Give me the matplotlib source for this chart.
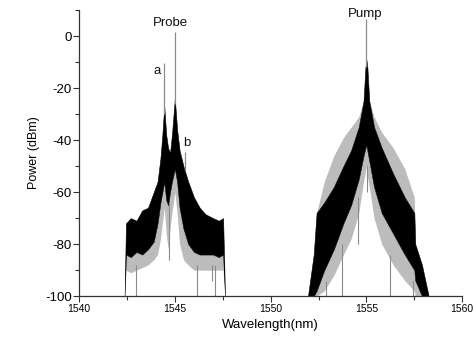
import matplotlib
matplotlib.use("Agg")
import matplotlib.pyplot as plt
from matplotlib.ticker import MultipleLocator

plt.rcParams['font.family'] = ['Liberation Sans', 'DejaVu Sans']
plt.rcParams['axes.unicode_minus'] = False

# ---- Probe band (black envelope + grey fringe below) ----
probe_wl = [1542.38, 1542.45, 1542.7, 1543.0, 1543.3, 1543.6, 1543.9, 1544.1, 1544.25, 1544.35,
            1544.45, 1544.55, 1544.65, 1544.75, 1544.85, 1545.0, 1545.12, 1545.25, 1545.45,
            1545.7, 1546.0, 1546.3, 1546.6, 1547.0, 1547.3, 1547.52, 1547.62]
probe_top = [-100, -72, -70, -71, -67, -66, -60, -56, -47, -38,
             -27, -38, -43, -45, -38, -24, -36, -44, -50,
             -56, -62, -66, -68.5, -70, -71, -70, -100]
probe_bot = [-100, -84, -85, -83, -84, -82, -79, -72, -64, -60,
             -56, -63, -65, -60, -56, -51, -56, -66, -74,
             -80, -83, -84, -84, -84, -85, -84, -100]
probe_fringe = [-100, -90, -91, -90, -89, -88, -86, -84, -78, -72,
                -66, -76, -82, -74, -68, -60, -68, -80, -86,
                -88, -90, -90, -90, -90, -90, -90, -100]

# ---- Pump band (black envelope, grey sidebands above, grey fringe below) ----
pump_wl = [1551.95, 1552.25, 1552.40, 1552.8, 1553.3, 1553.8, 1554.2, 1554.6, 1554.85, 1554.95,
           1555.0, 1555.05, 1555.15, 1555.4, 1555.8, 1556.4, 1557.0, 1557.5, 1557.55, 1557.9, 1558.25]
pump_top = [-100, -84, -68, -64, -58, -50, -44, -35, -25, -12,
            -9, -12, -25, -35, -43, -53, -62, -68, -80, -88, -100]
pump_bot = [-100, -100, -98, -90, -82, -72, -65, -55, -46, -43,
            -42, -44, -48, -58, -68, -76, -84, -90, -94, -100, -100]
pump_side = [-100, -84, -68, -56, -46, -39, -35, -31, -25, -12,
             -9, -12, -25, -31, -37, -43, -51, -62, -80, -88, -100]
pump_fringe = [-100, -100, -100, -98, -92, -84, -78, -68, -56, -52,
               -50, -54, -58, -70, -80, -88, -94, -98, -100, -100, -100]

# ---- Spectral lines (peaks) ----
peak_wl = [1544.45, 1545.0, 1545.55, 1555.0]
peak_top = [-10.5, 1.5, -44.5, 6.5]
peak_base = [-30, -26, -52, -12]

# ---- Grey dips below the envelopes ----
dip_wl = [1542.98, 1544.68, 1546.15, 1546.93, 1547.1,
          1552.9, 1553.75, 1554.55, 1555.05, 1556.24, 1557.45]
dip_low = [-100, -86, -100, -94, -100,
           -100, -100, -80, -60, -100, -100]
dip_top = [-88, -64, -88, -88, -88,
           -94, -80, -62, -50, -84, -94]

labels = ["Probe", "a", "b", "Pump"]
label_x = [1544.75, 1544.1, 1545.65, 1554.95]
label_y = [5.0, -13.5, -41.0, 8.5]

xticks = [1540, 1545, 1550, 1555, 1560]
yticks = [0, -20, -40, -60, -80, -100]

fig = plt.figure(figsize=(4.76, 3.48), dpi=100)
ax = fig.add_axes([0.166, 0.149, 0.805, 0.822])

grey = '#8a8a8a'
light = '#bcbcbc'
ax.fill_between(pump_wl, pump_top, pump_side, color=light, lw=0)
ax.fill_between(pump_wl, pump_fringe, pump_bot, color=light, lw=0)
ax.fill_between(probe_wl, probe_fringe, probe_bot, color=light, lw=0)
ax.vlines(dip_wl, dip_low, dip_top, color=grey, lw=0.8)
ax.fill_between(probe_wl, probe_bot, probe_top, color='black', lw=0.4, edgecolor='black')
ax.fill_between(pump_wl, pump_bot, pump_top, color='black', lw=0.4, edgecolor='black')
ax.vlines(peak_wl, peak_base, peak_top, color=grey, lw=0.9)

for t, x, y in zip(labels, label_x, label_y):
    ax.text(x, y, t, ha='center', va='center', fontsize=9.5, color='#111111')

ax.set_xlim(1540, 1560)
ax.set_ylim(-100, 10)
ax.set_xticks(xticks)
ax.set_yticks(yticks)
ax.xaxis.set_minor_locator(MultipleLocator(2.5))
ax.yaxis.set_minor_locator(MultipleLocator(10))
ax.spines['top'].set_visible(False)
ax.spines['right'].set_visible(False)
for s in ['left', 'bottom']:
    ax.spines[s].set_color('#333333')
    ax.spines[s].set_linewidth(0.9)
ax.tick_params(axis='both', which='both', direction='out', color='#333333', width=0.8)
ax.tick_params(axis='both', which='major', length=4)
ax.tick_params(axis='both', which='minor', length=3)
ax.tick_params(axis='x', labelsize=7.5, pad=2)
ax.tick_params(axis='y', labelsize=9.5, pad=1)
ax.set_xlabel('Wavelength(nm)', fontsize=9.5, labelpad=3)
ax.set_ylabel('Power (dBm)', fontsize=9, labelpad=4)

fig.savefig('out.png', dpi=100)
